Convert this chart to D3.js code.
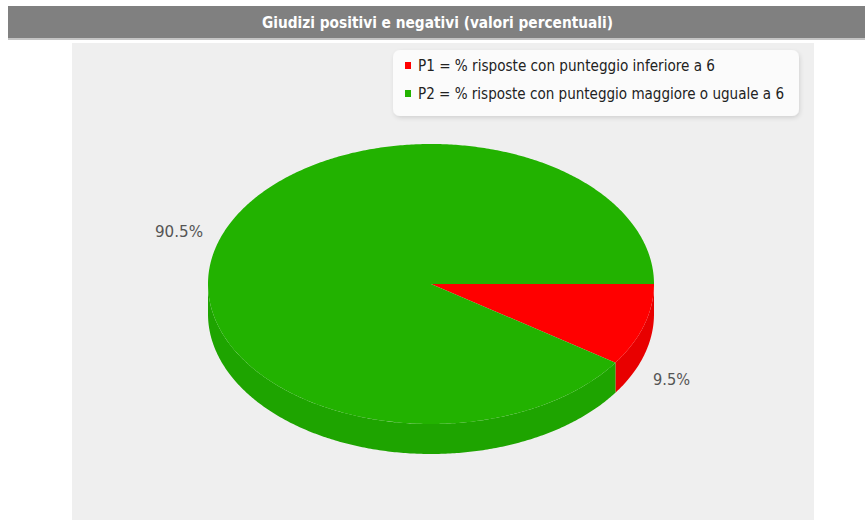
<!DOCTYPE html>
<html><head><meta charset="utf-8">
<script src="https://cdn.jsdelivr.net/npm/d3@7"></script>
<style>html,body{margin:0;padding:0;background:#fff;}svg{display:block;}</style>
</head><body>
<script>
const title = "Giudizi positivi e negativi (valori percentuali)";
const categories = ["P1", "P2"];
const legendLabels = ["P1 = % risposte con punteggio inferiore a 6", "P2 = % risposte con punteggio maggiore o uguale a 6"];
const values = [9.5, 90.5];
const valueLabels = ["9.5%", "90.5%"];
const topColors = ["#ff0000", "#22b200"];
const sideColors = ["#e80000", "#1ea400"];

const W = 865, H = 520;
const svg = d3.select("body").append("svg").attr("width", W).attr("height", H);
const defs = svg.append("defs");
const f = defs.append("filter").attr("id","sh").attr("x","-10%").attr("y","-20%").attr("width","120%").attr("height","150%");
f.append("feDropShadow").attr("dx",1).attr("dy",2).attr("stdDeviation",2).attr("flood-color","#000").attr("flood-opacity",0.12);

svg.append("rect").attr("width",W).attr("height",H).attr("fill","#fff");
// title bar
svg.append("rect").attr("x",8).attr("y",6).attr("width",857).attr("height",32).attr("fill","#808080");
svg.append("rect").attr("x",8).attr("y",38).attr("width",857).attr("height",2).attr("fill","#c4c4c4");
svg.append("text").attr("x",437.5).attr("y",28).attr("text-anchor","middle")
  .attr("font-family","DejaVu Sans Condensed, DejaVu Sans, sans-serif").attr("font-weight","bold")
  .attr("font-size",15).attr("fill","#fff").attr("textLength",351).attr("lengthAdjust","spacingAndGlyphs").text(title);
// plot area
svg.append("rect").attr("x",72).attr("y",43).attr("width",742).attr("height",477).attr("fill","#efefef");

// 3D pie
const cx = 431, cy = 284, rx = 223, ry = 140, depth = 30;
const pie = d3.pie().sort(null).startAngle(Math.PI/2).endAngle(Math.PI/2 + 2*Math.PI);
const arcs = pie(values);
const px = a => cx + rx*Math.sin(a);
const py = a => cy - ry*Math.cos(a);

function topPath(a0, a1){
  const p = d3.path();
  p.moveTo(cx, cy);
  const n = Math.max(2, Math.ceil((a1-a0)/0.01));
  for (let i=0;i<=n;i++){ const a = a0 + (a1-a0)*i/n; p.lineTo(px(a), py(a)); }
  p.closePath();
  return p.toString();
}
function sidePath(a0, a1){
  const s = Math.max(a0, Math.PI/2), e = Math.min(a1, 3*Math.PI/2);
  if (e <= s) return null;
  const p = d3.path();
  const n = Math.max(2, Math.ceil((e-s)/0.01));
  for (let i=0;i<=n;i++){ const a = s + (e-s)*i/n; i===0 ? p.moveTo(px(a), py(a)) : p.lineTo(px(a), py(a)); }
  for (let i=n;i>=0;i--){ const a = s + (e-s)*i/n; p.lineTo(px(a), py(a)+depth); }
  p.closePath();
  return p.toString();
}
const g = svg.append("g");
arcs.forEach((d,i)=>{
  const sp = sidePath(d.startAngle, d.endAngle);
  if (sp) g.append("path").attr("d", sp).attr("fill", sideColors[i]);
});
arcs.forEach((d,i)=>{
  g.append("path").attr("d", topPath(d.startAngle, d.endAngle)).attr("fill", topColors[i]);
});

// value labels
const labelPos = [{x:653, y:385, anchor:"start", w:37}, {x:203, y:237, anchor:"end", w:48}];
arcs.forEach((d,i)=>{
  const lp = labelPos[i];
  svg.append("text").attr("x", lp.x).attr("y", lp.y).attr("text-anchor", lp.anchor)
    .attr("font-family","DejaVu Sans Condensed, DejaVu Sans, sans-serif").attr("font-size",16)
    .attr("fill","#555").attr("textLength", lp.w).attr("lengthAdjust","spacingAndGlyphs").text(valueLabels[i]);
});

// legend
svg.append("rect").attr("x",393).attr("y",50).attr("width",406).attr("height",66).attr("rx",7)
  .attr("fill","#fbfbfb").attr("filter","url(#sh)");
const legW = [297, 366];
legendLabels.forEach((t,i)=>{
  const y = 71 + i*28;
  svg.append("rect").attr("x",405).attr("y",y-9).attr("width",6).attr("height",7).attr("fill",topColors[i]);
  svg.append("text").attr("x",418).attr("y",y).attr("font-family","DejaVu Sans Condensed, DejaVu Sans, sans-serif")
    .attr("font-size",16).attr("fill","#222").attr("textLength",legW[i]).attr("lengthAdjust","spacingAndGlyphs").text(t);
});
</script>
</body></html>
